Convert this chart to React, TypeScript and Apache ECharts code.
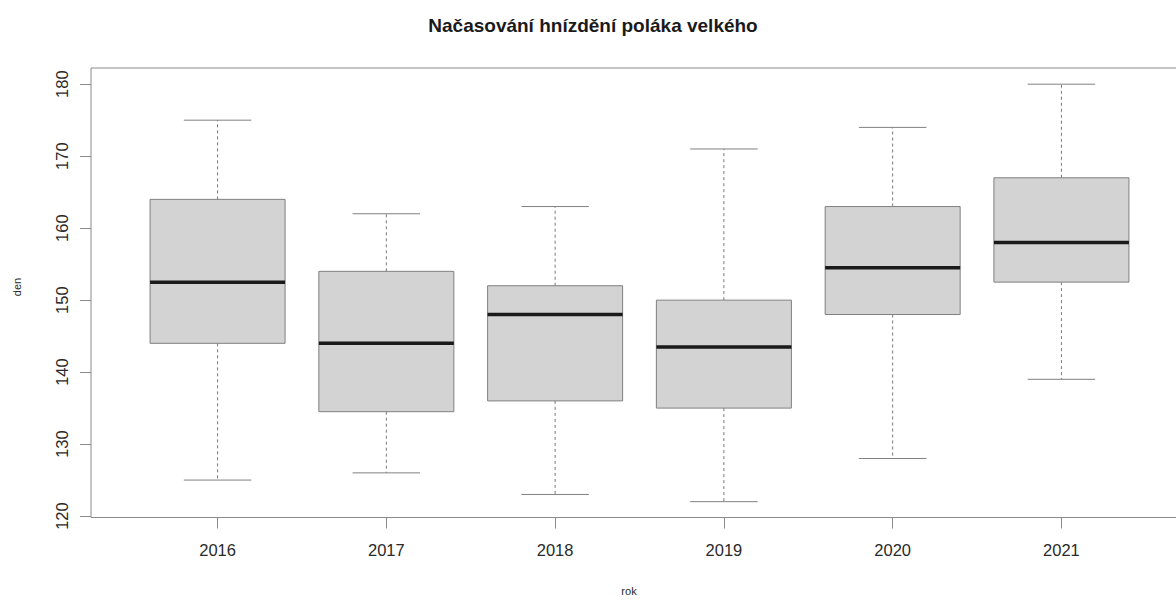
import React, { useEffect, useRef } from "react";
import * as echarts from "echarts";

const years = ["2016", "2017", "2018", "2019", "2020", "2021"];
const positions = [1, 2, 3, 4, 5, 6];
const whiskerLow = [125, 126, 123, 122, 128, 139];
const q1 = [144, 134.5, 136, 135, 148, 152.5];
const median = [152.5, 144, 148, 143.5, 154.5, 158];
const q3 = [164, 154, 152, 150, 163, 167];
const whiskerHigh = [175, 162, 163, 171, 174, 180];
const yTicks = [120, 130, 140, 150, 160, 170, 180];

const FONT = "'Liberation Sans', Arial, Helvetica, sans-serif";

export default function App() {
  const ref = useRef<HTMLDivElement>(null);
  useEffect(() => {
    if (!ref.current) return;
    const chart = echarts.init(ref.current, undefined, { renderer: "svg" });
    const data = positions.map((p, i) => [p, whiskerLow[i], q1[i], median[i], q3[i], whiskerHigh[i]]);
    chart.setOption({
      animation: false,
      backgroundColor: "#ffffff",
      grid: {
        left: 91,
        top: 68,
        width: 1097,
        height: 449.5,
        show: true,
        borderColor: "#8a8a8a",
        borderWidth: 1,
        backgroundColor: "transparent",
        containLabel: false,
        outerBoundsMode: "none",
      },
      xAxis: {
        type: "value",
        min: 0.25,
        max: 6.75,
        axisLine: { show: false },
        splitLine: { show: false },
        axisTick: {
          show: true,
          length: 11,
          customValues: positions,
          lineStyle: { color: "#8a8a8a", width: 1 },
        },
        axisLabel: {
          customValues: positions,
          formatter: (v: number) => years[Math.round(v) - 1] ?? "",
          margin: 24,
          color: "#2a2a2a",
          fontSize: 16.5,
          fontFamily: FONT,
        },
      },
      yAxis: {
        type: "value",
        min: 119.8,
        max: 182.25,
        axisLine: { show: false },
        splitLine: { show: false },
        axisTick: {
          show: true,
          length: 11,
          customValues: yTicks,
          lineStyle: { color: "#8a8a8a", width: 1 },
        },
        axisLabel: {
          customValues: yTicks,
          rotate: 90,
          margin: 21,
          color: "#2a2a2a",
          fontSize: 16.5,
          fontFamily: FONT,
        },
      },
      series: [
        {
          type: "custom",
          data,
          encode: { x: 0, y: [1, 2, 3, 4, 5] },
          renderItem: (params: any, api: any) => {
            const x = api.value(0);
            const lo = api.coord([x, api.value(1)]);
            const b1 = api.coord([x, api.value(2)]);
            const md = api.coord([x, api.value(3)]);
            const b3 = api.coord([x, api.value(4)]);
            const hi = api.coord([x, api.value(5)]);
            const boxW = api.size([0.8, 0])[0];
            const capW = api.size([0.4, 0])[0];
            const cx = lo[0];
            const whisk = { stroke: "#777777", lineWidth: 1, lineDash: [3, 3] };
            const solid = { stroke: "#808080", lineWidth: 1 };
            return {
              type: "group",
              children: [
                { type: "line", shape: { x1: cx, y1: b3[1], x2: cx, y2: hi[1] }, style: whisk },
                { type: "line", shape: { x1: cx, y1: b1[1], x2: cx, y2: lo[1] }, style: whisk },
                { type: "line", shape: { x1: cx - capW / 2, y1: hi[1], x2: cx + capW / 2, y2: hi[1] }, style: solid },
                { type: "line", shape: { x1: cx - capW / 2, y1: lo[1], x2: cx + capW / 2, y2: lo[1] }, style: solid },
                {
                  type: "rect",
                  shape: { x: cx - boxW / 2, y: b3[1], width: boxW, height: b1[1] - b3[1] },
                  style: { fill: "#d3d3d3", stroke: "#808080", lineWidth: 1 },
                },
                {
                  type: "line",
                  shape: { x1: cx - boxW / 2, y1: md[1], x2: cx + boxW / 2, y2: md[1] },
                  style: { stroke: "#1a1a1a", lineWidth: 3.5 },
                },
              ],
            };
          },
        },
      ],
      graphic: [
        {
          type: "text",
          x: 593,
          y: 25,
          style: {
            text: "Načasování hnízdění poláka velkého",
            align: "center",
            verticalAlign: "middle",
            font: `bold 19px ${FONT}`,
            fill: "#1a1a1a",
          },
        },
        {
          type: "text",
          x: 17,
          y: 287,
          rotation: Math.PI / 2,
          style: {
            text: "den",
            align: "center",
            verticalAlign: "middle",
            font: `11px ${FONT}`,
            fill: "#2a2a2a",
          },
        },
        {
          type: "text",
          x: 629,
          y: 591,
          style: {
            text: "rok",
            align: "center",
            verticalAlign: "middle",
            font: `11px ${FONT}`,
            fill: "#2a2a2a",
          },
        },
      ],
    });
    return () => chart.dispose();
  }, []);
  return (
    <div
      ref={ref}
      style={{ position: "fixed", left: 0, top: 0, width: 1176, height: 601 }}
    />
  );
}
